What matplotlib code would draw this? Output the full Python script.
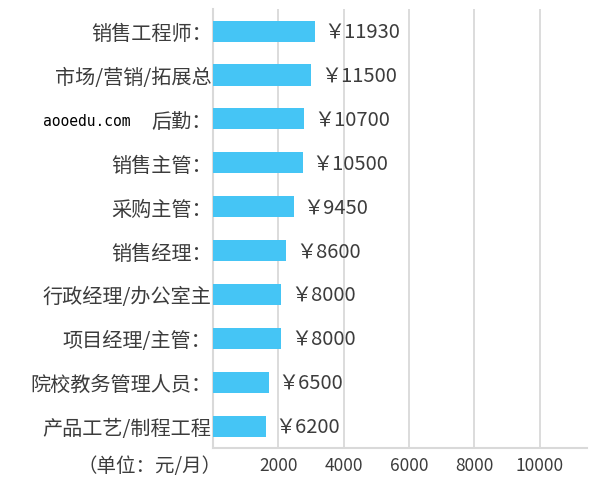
import matplotlib
matplotlib.use("Agg")
import matplotlib.pyplot as plt

plt.rcParams['font.family'] = ['Noto Sans CJK SC', 'DejaVu Sans']

jobs = ["销售工程师：", "市场/营销/拓展总", "后勤：", "销售主管：", "采购主管：",
        "销售经理：", "行政经理/办公室主", "项目经理/主管：", "院校教务管理人员：", "产品工艺/制程工程"]
salary = [11930, 11500, 10700, 10500, 9450, 8600, 8000, 8000, 6500, 6200]
ticks = [2000, 4000, 6000, 8000, 10000]

bar_color = "#45c5f5"
grid_color = "#d9d9d9"
text_color = "#3c3c3c"

fig = plt.figure(figsize=(6, 4.85), dpi=100)
ax = fig.add_axes([0.355, 0.074, 0.623, 0.905])

# axis with the printed scale + gridlines
ax.set_xlim(0, 11440)
ax.set_xticks(ticks)
ax.set_xticklabels([str(t) for t in ticks], fontsize=12.5, color=text_color)
ax.tick_params(axis='x', length=0, pad=6)
ax.grid(axis='x', color=grid_color, linewidth=1.3)
ax.set_axisbelow(True)
for s in ['top', 'right']:
    ax.spines[s].set_visible(False)
ax.spines['left'].set_color(grid_color)
ax.spines['left'].set_linewidth(1.5)
ax.spines['bottom'].set_color(grid_color)
ax.spines['bottom'].set_linewidth(1.5)

ypos = list(range(len(jobs)))
ax.set_ylim(len(jobs) - 0.5, -0.5)
ax.set_yticks(ypos)
ax.set_yticklabels(jobs, fontsize=14.5, color=text_color)
ax.tick_params(axis='y', length=0, pad=1)

# bars on their own scale
ax2 = ax.twiny()
ax2.set_xlim(0, 43740)
ax2.set_xticks([])
for s in ax2.spines.values():
    s.set_visible(False)
ax2.barh(ypos, salary, height=0.48, color=bar_color)
for y, v in zip(ypos, salary):
    ax2.annotate("￥" + str(v), (v, y), xytext=(7, 0), textcoords='offset points',
                 va='center', ha='left', fontsize=14.5, color=text_color)

fig.text(222 / 600, 1 - 467 / 485, "（单位：元/月）", ha='right', va='center',
         fontsize=14, color=text_color)
fig.text(43 / 600, 1 - 122 / 485, "aooedu.com", ha='left', va='center',
         fontsize=10.5, family='DejaVu Sans Mono', color='black')

fig.savefig("out.png", dpi=100)
